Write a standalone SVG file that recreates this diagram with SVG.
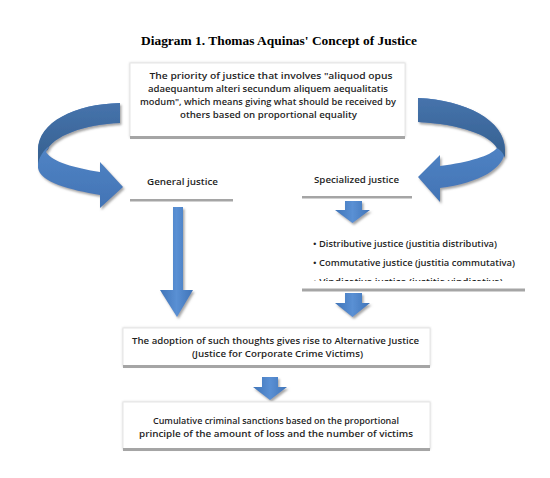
<svg xmlns="http://www.w3.org/2000/svg" width="550" height="478" viewBox="0 0 550 478">
<defs>
<style>
.t{font-family:"Open Sans","Noto Sans","Liberation Sans",sans-serif;font-size:9.2px;font-weight:600;fill:#1f1f1f;}
.title{font-family:"Liberation Serif","Times New Roman",serif;font-size:12.5px;font-weight:bold;fill:#000;}
.box{fill:#fff;stroke:#e6e6e6;stroke-width:1;}
.bar{fill:#a5a5a5;}
.dark{fill:url(#gDark);}
.light{fill:url(#gLight);}
.down{fill:url(#gDown);filter:url(#sh);}
</style>
<linearGradient id="gDark" x1="0" y1="0" x2="0" y2="1">
<stop offset="0" stop-color="#4673ac"/><stop offset="1" stop-color="#35608f"/>
</linearGradient>
<linearGradient id="gLight" x1="0" y1="0" x2="0" y2="1">
<stop offset="0" stop-color="#5b8fd0"/><stop offset="1" stop-color="#4274b5"/>
</linearGradient>
<linearGradient id="gDown" x1="0" y1="0" x2="1" y2="0">
<stop offset="0" stop-color="#3f74b8"/><stop offset="0.5" stop-color="#5a90d4"/><stop offset="1" stop-color="#3f74b8"/>
</linearGradient>
<filter id="sh" x="-30%" y="-30%" width="160%" height="160%">
<feDropShadow dx="1.5" dy="2" stdDeviation="1" flood-color="#7f7f7f" flood-opacity="0.7"/>
</filter>
<filter id="bs" x="-5%" y="-10%" width="110%" height="130%">
<feDropShadow dx="0" dy="0" stdDeviation="0.8" flood-color="#bfbfbf" flood-opacity="0.6"/>
</filter>
<clipPath id="clipV"><rect x="300" y="270" width="230" height="11"/></clipPath>
</defs>
<rect width="550" height="478" fill="#fff"/>
<text class="title" x="279" y="45" text-anchor="middle" textLength="276" lengthAdjust="spacingAndGlyphs">Diagram 1. Thomas Aquinas'  Concept of Justice</text>

<g id="connectors">
<g id="curve-left" filter="url(#sh)">
<path class="light" d="M120,103 C75,104 38,122 38,152 L38,168 C40,182 70,190 100,195 L100,208 L123,187 L100,162 L100,172 C75,168 52,162 46,152 C52,136 85,124 120,123 Z"/>
<path class="dark" d="M120,103 C75,104 38,122 38,150 L38,164 C40,150 56,140 46,152 C52,136 85,124 120,123 Z"/>
</g>
<g id="curve-right" filter="url(#sh)">
<path class="light" d="M418,98 C465,100 505,120 505,150 C505,168 480,183 440,188 L440,202 L418,177 L440,155 L440,166 C470,162 490,156 497,148 C490,135 460,124 418,122 Z"/>
<path class="dark" d="M418,98 C465,100 505,120 505,150 L505,158 C503,152 500,150 497,148 C490,135 460,124 418,122 Z"/>
</g>
<path id="arrow-general" class="down" d="M173,207 L183,207 L183,290 L193,290 L177,317 L160,290 L173,290 Z"/>
<path id="arrow-special" class="down" d="M345,201 L362,201 L362,210 L370,210 L352.5,223 L335,210 L345,210 Z"/>
<path id="arrow-bullets" class="down" d="M345,293 L362,293 L362,303 L370,303 L352.5,317 L335,303 L345,303 Z"/>
<path id="arrow-adoption" class="down" d="M262,377 L278,377 L278,387 L287,387 L270,400 L253,387 L262,387 Z"/>
</g>

<g id="node-priority">
<rect class="box" x="130" y="63" width="275" height="74" filter="url(#bs)"/>
<rect class="bar" x="130" y="136" width="275" height="3"/>
<text class="t" x="271" y="78.5" text-anchor="middle" textLength="243" lengthAdjust="spacingAndGlyphs">The priority of justice that involves "aliquod opus</text>
<text class="t" x="268" y="91.5" text-anchor="middle" textLength="240" lengthAdjust="spacingAndGlyphs">adaequantum alteri secundum aliquem aequalitatis</text>
<text class="t" x="268" y="104.5" text-anchor="middle" textLength="256" lengthAdjust="spacingAndGlyphs">modum", which means giving what should be received by</text>
<text class="t" x="268.5" y="117.5" text-anchor="middle" textLength="177" lengthAdjust="spacingAndGlyphs">others based on proportional equality</text>
</g>

<g id="node-general">
<text class="t" x="147" y="184.5" textLength="71" lengthAdjust="spacingAndGlyphs">General justice</text>
<rect class="bar" x="130" y="199" width="103" height="2.5"/>
</g>

<g id="node-specialized">
<text class="t" x="314" y="182.5" textLength="85" lengthAdjust="spacingAndGlyphs">Specialized justice</text>
<rect class="bar" x="302" y="196" width="110" height="2.5"/>
</g>

<g id="node-types">
<text class="t" x="313" y="246.5" textLength="184" lengthAdjust="spacingAndGlyphs">• Distributive justice (justitia distributiva)</text>
<text class="t" x="313" y="265.5" textLength="202" lengthAdjust="spacingAndGlyphs">• Commutative justice (justitia commutativa)</text>
<text class="t" x="313" y="284.5" textLength="190" lengthAdjust="spacingAndGlyphs" clip-path="url(#clipV)">• Vindicative justice (justitia vindicativa)</text>
<rect class="bar" x="302" y="288.5" width="223" height="3"/>
</g>

<g id="node-adoption">
<rect class="box" x="123" y="328" width="307" height="38" filter="url(#bs)"/>
<rect class="bar" x="123" y="365" width="307" height="3"/>
<text class="t" x="275.5" y="343.5" text-anchor="middle" textLength="287" lengthAdjust="spacingAndGlyphs">The adoption of such thoughts gives rise to Alternative Justice</text>
<text class="t" x="277.5" y="356.5" text-anchor="middle" textLength="171" lengthAdjust="spacingAndGlyphs">(Justice for Corporate Crime Victims)</text>
</g>

<g id="node-sanctions">
<rect class="box" x="123" y="402" width="307" height="47" filter="url(#bs)"/>
<rect class="bar" x="123" y="448" width="307" height="3"/>
<text class="t" x="276" y="423.5" text-anchor="middle" textLength="246" lengthAdjust="spacingAndGlyphs">Cumulative criminal sanctions based on the proportional</text>
<text class="t" x="276" y="436.5" text-anchor="middle" textLength="274" lengthAdjust="spacingAndGlyphs">principle of the amount of loss and the number of victims</text>
</g>
</svg>
